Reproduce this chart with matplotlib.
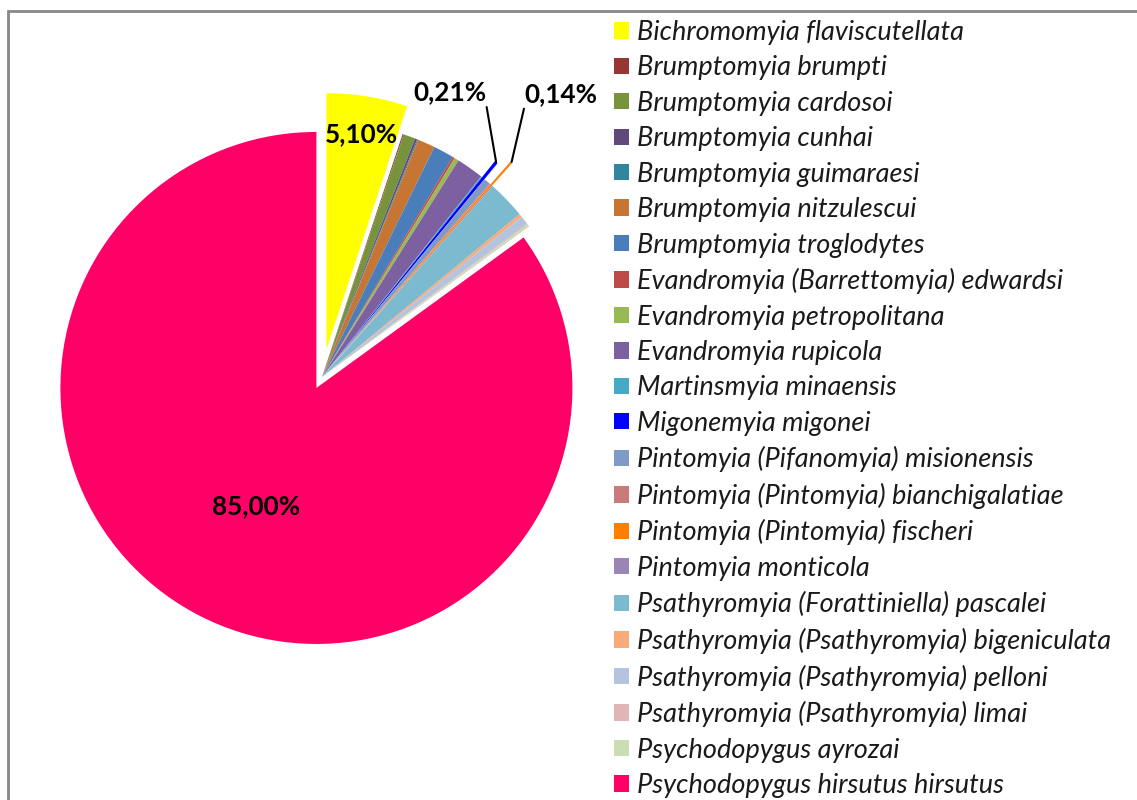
import matplotlib.pyplot as plt
import numpy as np
from matplotlib.patches import Rectangle

species = ['Bichromomyia flaviscutellata', 'Brumptomyia brumpti', 'Brumptomyia cardosoi',
           'Brumptomyia cunhai', 'Brumptomyia guimaraesi', 'Brumptomyia nitzulescui',
           'Brumptomyia troglodytes', 'Evandromyia (Barrettomyia) edwardsi',
           'Evandromyia petropolitana', 'Evandromyia rupicola', 'Martinsmyia minaensis',
           'Migonemyia migonei', 'Pintomyia (Pifanomyia) misionensis',
           'Pintomyia (Pintomyia) bianchigalatiae', 'Pintomyia (Pintomyia) fischeri',
           'Pintomyia monticola', 'Psathyromyia (Forattiniella) pascalei',
           'Psathyromyia (Psathyromyia) bigeniculata', 'Psathyromyia (Psathyromyia) pelloni',
           'Psathyromyia (Psathyromyia) limai', 'Psychodopygus ayrozai',
           'Psychodopygus hirsutus hirsutus']

percent = [5.10, 0.07, 0.75, 0.14, 0.07, 1.10, 1.30, 0.14, 0.28, 1.72, 0.07,
           0.21, 0.41, 0.07, 0.14, 0.07, 2.39, 0.21, 0.55, 0.07, 0.14, 85.00]

colors = ['#FFFF00', '#953735', '#77933C', '#604A7B', '#31859C', '#C77532',
          '#4A7EBB', '#BE4B48', '#98B954', '#7D60A0', '#46AAC5', '#0000FF',
          '#7E9AC7', '#C87B79', '#FF7F00', '#9A86B5', '#7BBACF', '#F8AA79',
          '#B4C3DE', '#DFB5B6', '#CCDDB6', '#FF0066']

# pulled-out slices (fraction of radius)
explode = [0.11, 0, 0, 0, 0, 0, 0, 0, 0, 0, 0, 0.08, 0, 0, 0.12, 0, 0, 0, 0, 0, 0, 0.048]

W, H = 1137, 800
fig = plt.figure(figsize=(W / 100, H / 100), dpi=100)
ax = fig.add_axes([0, 0, 1, 1])

R = 256
# matplotlib's explode is in data units, so scale it by the radius
wedges, _ = ax.pie(percent, colors=colors, explode=[e * R for e in explode], startangle=90,
                   counterclock=False, radius=R, center=(322, H - 377),
                   wedgeprops=dict(linewidth=0))
ax.set_xlim(0, W)
ax.set_ylim(0, H)
ax.set_aspect('equal')
ax.axis('off')


def fmt(v):
    return f'{v:.2f}%'.replace('.', ',')


def point_on(w, frac):
    mid = np.radians((w.theta1 + w.theta2) / 2)
    cx, cy = w.center
    return cx + frac * w.r * np.cos(mid), cy + frac * w.r * np.sin(mid)


lbl_font = dict(family='Lato', fontweight='bold', fontsize=18.8, color='black')

# labels inside the big slices
for i, frac in [(0, 0.85), (21, 0.52)]:
    x, y = point_on(wedges[i], frac)
    ax.text(x, y, fmt(percent[i]), ha='center', va='center', **lbl_font)

# small pulled-out slices with leader lines
for i, off, ha, rel in [(11, (-10, 58), 'right', (1, 0)), (14, (13, 56), 'left', (0, 0))]:
    ax.annotate(fmt(percent[i]), xy=point_on(wedges[i], 1.0), xytext=off,
                textcoords='offset pixels', ha=ha, va='bottom', **lbl_font,
                arrowprops=dict(arrowstyle='-', color='black', lw=1.5,
                                shrinkA=0, shrinkB=0, relpos=rel))

leg = ax.legend(wedges, species, loc='upper left', bbox_to_anchor=(614 / W, 1 - 20 / H),
                bbox_transform=fig.transFigure, frameon=False, borderpad=0,
                borderaxespad=0, handlelength=0.55, handleheight=0.55,
                handletextpad=0.3, labelspacing=0.385,
                prop=dict(family='Lato', style='italic', size=19.5))
for t in leg.get_texts():
    t.set_color('#1a1a1a')

# chart area border
fig.patches.append(Rectangle((8 / W, -0.05), 1.1, 1.05 - 11 / H, transform=fig.transFigure,
                             fill=False, edgecolor='#888888', lw=2))

fig.savefig('out.png', dpi=100)
